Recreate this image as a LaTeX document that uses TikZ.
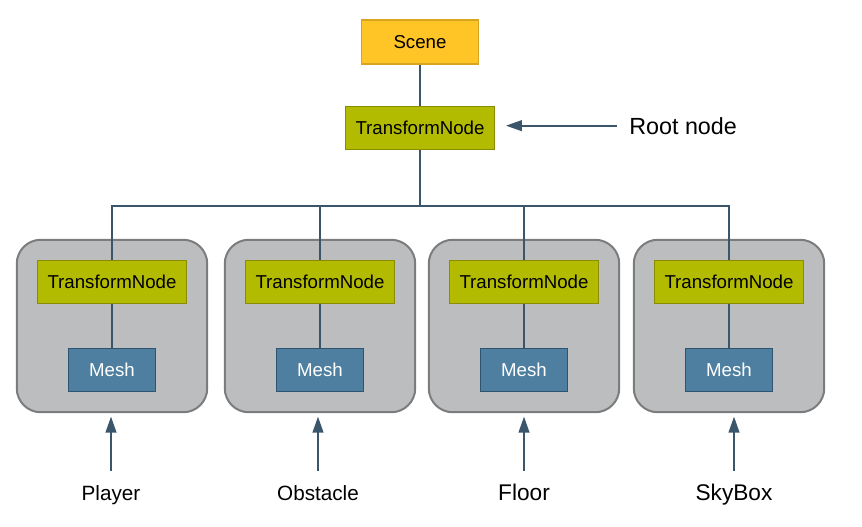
\documentclass[tikz,border=0pt]{standalone}
\usepackage{fontspec}
\setmainfont{Liberation Sans}
\usetikzlibrary{positioning, arrows.meta, fit, backgrounds}

\definecolor{scenefill}{HTML}{FFC425}
\definecolor{sceneline}{HTML}{D9A521}
\definecolor{tnfill}{HTML}{B3BB00}
\definecolor{tnline}{HTML}{8B8D00}
\definecolor{meshfill}{HTML}{4F7FA0}
\definecolor{meshline}{HTML}{2E5470}
\definecolor{grpfill}{HTML}{BCBDBF}
\definecolor{grpline}{HTML}{7B7C7E}
\definecolor{wirecol}{HTML}{3B566B}

\begin{document}
\begin{tikzpicture}[x=0.75pt, y=-0.75pt, node distance=66pt,
  box/.style={draw, line width=1.1pt, font=\fontsize{14}{16}\selectfont, minimum height=32.25pt, inner sep=0pt},
  scene/.style={box, fill=scenefill, draw=sceneline, minimum width=87.75pt, minimum height=33pt},
  tnode/.style={box, fill=tnfill, draw=tnline, minimum width=111.75pt},
  mesh/.style={box, fill=meshfill, draw=meshline, text=white, minimum width=65pt},
  group/.style={draw=grpline, fill=grpfill, line width=1.5pt, rounded corners=18pt, inner sep=15pt},
  tag/.style={anchor=base, font=\fontsize{15.5}{18}\selectfont, text height=12pt, text depth=3pt, inner xsep=0pt, inner ysep=9.75pt},
  bigtag/.style={tag, font=\fontsize{17}{20}\selectfont},
  wire/.style={draw=wirecol, line width=1.5pt},
  pointer/.style={wire, -{Triangle[length=12pt, width=8pt]}}]
\useasboundingbox (0,0) rectangle (862,526);

\node[tnode] (root) at (420,128) {TransformNode};
\node[scene, above=30.75pt of root] (scene) {Scene};
\node[anchor=base west, font=\fontsize{17.5}{20}\selectfont, inner xsep=9pt, inner ysep=0pt] (rootlbl) at (617,134) {Root node};
\coordinate (bus) at (420,206);

\node[tnode] (t1) at (112,282) {TransformNode};
\node[tnode] (t2) at (320,282) {TransformNode};
\node[tnode] (t3) at (524,282) {TransformNode};
\node[tnode] (t4) at (729,282) {TransformNode};

\node[mesh, below of=t1] (m1) {Mesh};
\node[mesh, below of=t2] (m2) {Mesh};
\node[mesh, below of=t3] (m3) {Mesh};
\node[mesh, below of=t4] (m4) {Mesh};

\begin{scope}[on background layer]
\node[group, fit=(t1)(m1)] (g1) {};
\node[group, fit=(t2)(m2)] (g2) {};
\node[group, fit=(t3)(m3)] (g3) {};
\node[group, fit=(t4)(m4)] (g4) {};
\end{scope}

\node[tag] (player) at (111,500) {Player};
\node[tag] (obstacle) at (318,500) {Obstacle};
\node[bigtag] (floor) at (524,500) {Floor};
\node[bigtag] (skybox) at (734,500) {SkyBox};

\draw[wire]
    (scene) -- (root)
    (root) -- (bus)
    (t1.north) |- (bus) -| (t4.north)
    (t2.north) -- (t2.north |- bus)
    (t3.north) -- (t3.north |- bus)
    (t1) -- (m1)
    (t2) -- (m2)
    (t3) -- (m3)
    (t4) -- (m4)
    ;
\draw[pointer, shorten >=8pt] (rootlbl.west) -- (rootlbl.west -| root.east);
\draw[pointer, shorten >=2.5pt] (player) -- (player |- g1.south);
\draw[pointer, shorten >=2.5pt] (obstacle) -- (obstacle |- g2.south);
\draw[pointer, shorten >=2.5pt] (floor) -- (floor |- g3.south);
\draw[pointer, shorten >=2.5pt] (skybox) -- (skybox |- g4.south);
\end{tikzpicture}
\end{document}
